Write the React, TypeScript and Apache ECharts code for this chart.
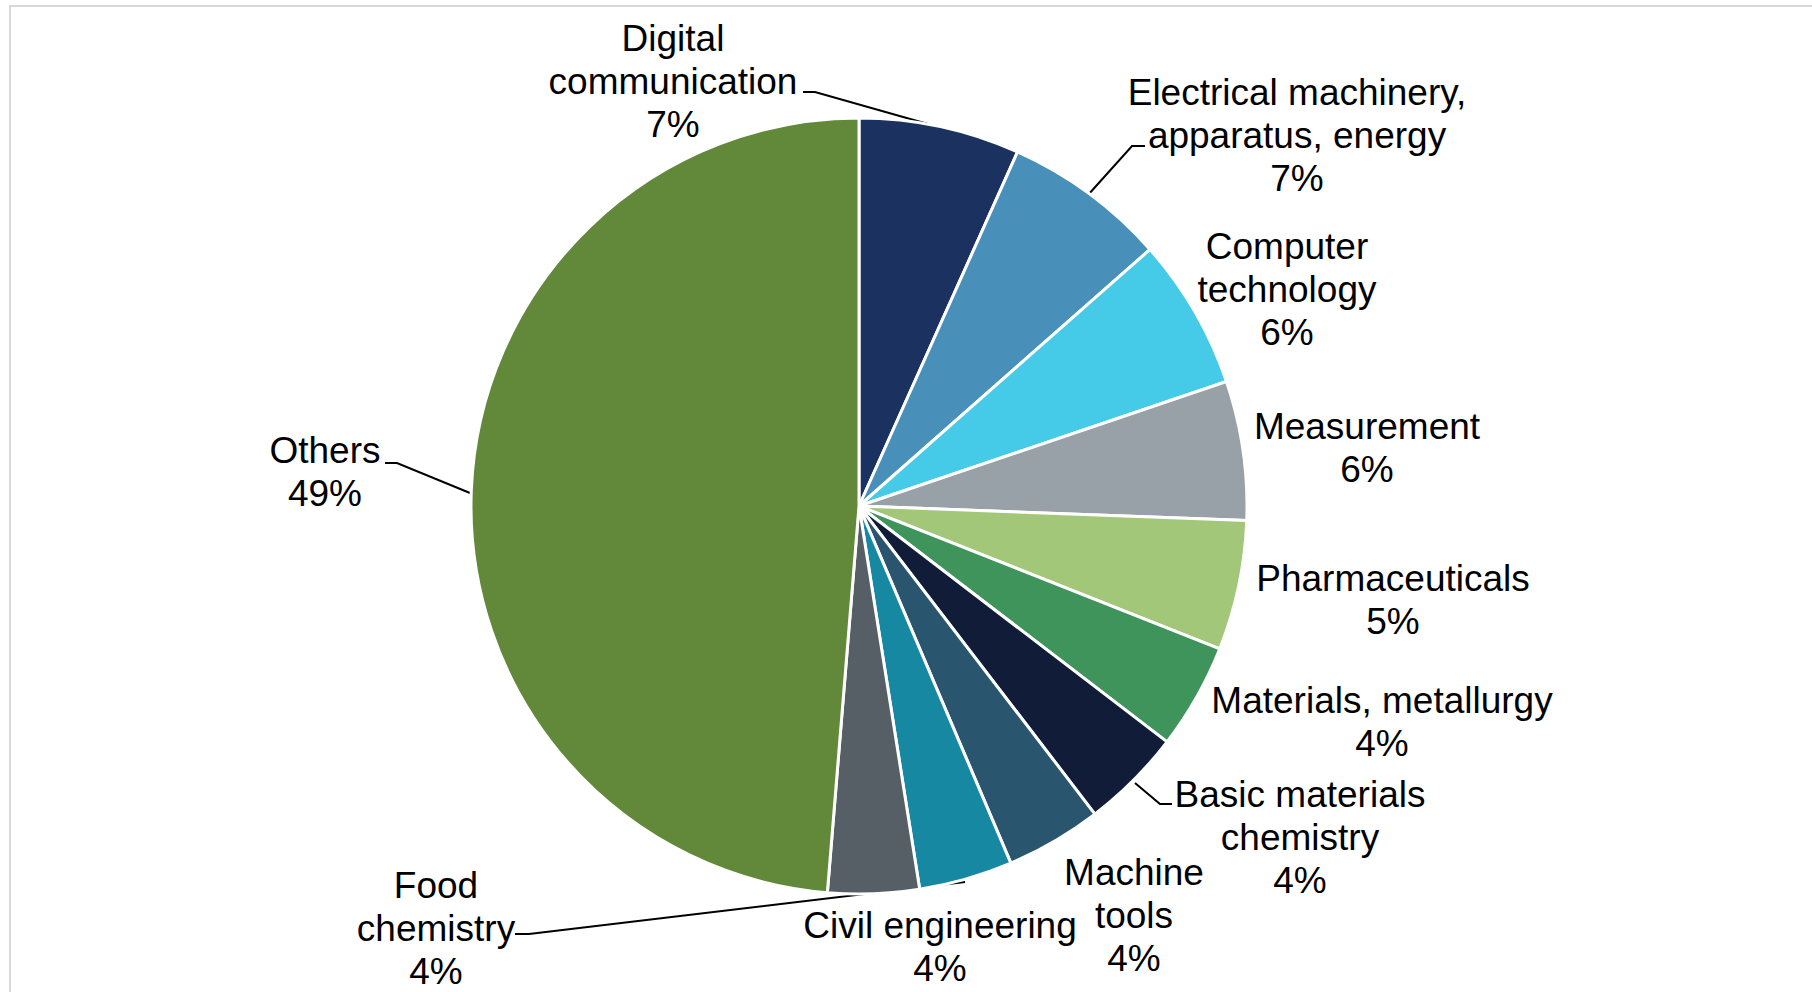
import React, { useEffect, useRef } from "react";
import * as echarts from "echarts";

const categories = [
  "Digital\ncommunication",
  "Electrical machinery,\napparatus, energy",
  "Computer\ntechnology",
  "Measurement",
  "Pharmaceuticals",
  "Materials, metallurgy",
  "Basic materials\nchemistry",
  "Machine\ntools",
  "Civil engineering",
  "Food\nchemistry",
  "Others",
];

const shares = [6.7, 6.8, 6.3, 5.8, 5.4, 4.4, 4.2, 4.0, 3.9, 3.8, 48.7];

const colors = [
  "#1B3160",
  "#4890BA",
  "#45CBE8",
  "#98A0A8",
  "#A3C779",
  "#3F945C",
  "#111D38",
  "#29566E",
  "#1788A2",
  "#565E66",
  "#62883A",
];

// label centre positions (px) and leader lines
const labelPos: [number, number][] = [
  [673, 81],
  [1297, 135],
  [1287, 289],
  [1367, 448],
  [1393, 600],
  [1382, 722],
  [1300, 837],
  [1134, 915],
  [940, 947],
  [436, 928],
  [325, 472],
];

const labelLines: ([number, number][] | null)[] = [
  [[803, 92], [815, 92], [942, 128]],
  [[1145, 146], [1132, 146], [1088, 195]],
  null,
  null,
  null,
  null,
  [[1172, 804], [1160, 804], [1135, 783]],
  null,
  null,
  [[515, 934], [529, 934], [965, 882]],
  [[385, 463], [397, 463], [470, 493]],
];

export default function App() {
  const ref = useRef<HTMLDivElement>(null);
  useEffect(() => {
    if (!ref.current) return;
    const chart = echarts.init(ref.current, null, { renderer: "svg" });
    const total = shares.reduce((a, b) => a + b, 0);
    chart.setOption({
      animation: false,
      backgroundColor: "#ffffff",
      graphic: [
        {
          type: "line",
          shape: { x1: 9, y1: 6, x2: 1812, y2: 6 },
          style: { stroke: "#D9D9D9", lineWidth: 2 },
        },
        {
          type: "line",
          shape: { x1: 10, y1: 5, x2: 10, y2: 992 },
          style: { stroke: "#D9D9D9", lineWidth: 2 },
        },
      ],
      series: [
        {
          type: "pie",
          center: [859, 506],
          radius: 388,
          startAngle: 90,
          clockwise: true,
          avoidLabelOverlap: false,
          itemStyle: { borderColor: "#ffffff", borderWidth: 3 },
          label: {
            show: true,
            position: "outside",
            color: "#000000",
            fontFamily: "Liberation Sans, Arial, sans-serif",
            fontSize: 37,
            lineHeight: 43,
            align: "center",
            formatter: (p: any) =>
              `${p.name}\n${Math.round((p.value / total) * 100)}%`,
          },
          labelLine: {
            show: true,
            lineStyle: { color: "#000000", width: 2 },
          },
          labelLayout: (params: any) => {
            const i = params.dataIndex;
            const pos = labelPos[i];
            const out: any = {
              x: pos[0],
              y: pos[1],
              align: "center",
              verticalAlign: "middle",
            };
            if (labelLines[i]) out.labelLinePoints = labelLines[i];
            return out;
          },
          data: categories.map((name, i) => ({
            name,
            value: shares[i],
            itemStyle: { color: colors[i] },
            labelLine: { show: labelLines[i] !== null },
          })),
        },
      ],
    });
    return () => chart.dispose();
  }, []);
  return (
    <div
      ref={ref}
      style={{ position: "fixed", left: 0, top: 0, width: 1812, height: 992 }}
    />
  );
}
